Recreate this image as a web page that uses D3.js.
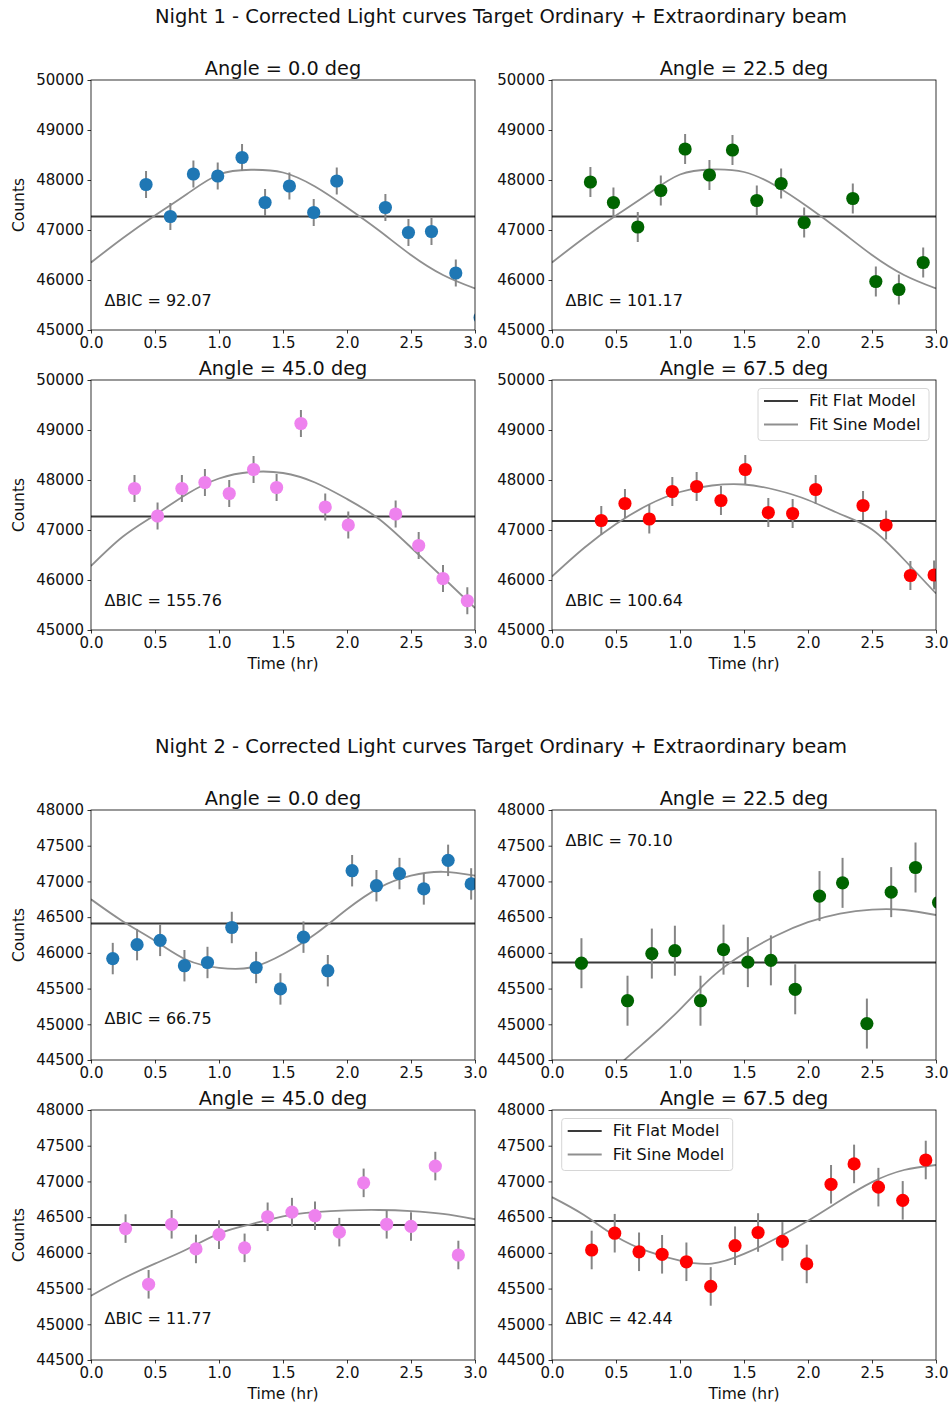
<!DOCTYPE html>
<html>
<head>
<meta charset="utf-8">
<script src="https://cdn.jsdelivr.net/npm/d3@7"></script>
<style>
  body { margin: 0; background: #fff; }
  svg text { font-family: "DejaVu Sans", sans-serif; fill: #111; }
</style>
</head>
<body>
<svg id="fig" width="951" height="1405"></svg>
<script>
// ---- Night titles, angles, colours ----
const nightTitles = [
  "Night 1 - Corrected Light curves Target Ordinary + Extraordinary beam",
  "Night 2 - Corrected Light curves Target Ordinary + Extraordinary beam"
];
const angleLabels = ["0.0", "22.5", "45.0", "67.5"];
const angleColors = ["#1f77b4", "#006400", "#ee82ee", "#ff0000"];

// ---- Axis ticks ----
const xTickValues = [0, 0.5, 1.0, 1.5, 2.0, 2.5, 3.0];
const yTicksN1 = [45000, 46000, 47000, 48000, 49000, 50000];
const yTicksN2 = [44500, 45000, 45500, 46000, 46500, 47000, 47500, 48000];

// ---- Night 1 light curves (time in hr, counts) ----
const timeN1A0  = [0.43, 0.62, 0.80, 0.99, 1.18, 1.36, 1.55, 1.74, 1.92, 2.30, 2.48, 2.66, 2.85, 3.04];
const countN1A0 = [47910, 47270, 48120, 48080, 48450, 47550, 47880, 47350, 47980, 47450, 46950, 46970, 46140, 45250];
const timeN1A1  = [0.30, 0.48, 0.67, 0.85, 1.04, 1.23, 1.41, 1.60, 1.79, 1.97, 2.35, 2.53, 2.71, 2.90];
const countN1A1 = [47960, 47550, 47060, 47790, 48620, 48100, 48600, 47590, 47930, 47150, 47630, 45970, 45810, 46350];
const timeN1A2  = [0.34, 0.52, 0.71, 0.89, 1.08, 1.27, 1.45, 1.64, 1.83, 2.01, 2.38, 2.56, 2.75, 2.94];
const countN1A2 = [47830, 47280, 47830, 47950, 47730, 48210, 47850, 49130, 47460, 47100, 47320, 46690, 46030, 45585];
const timeN1A3  = [0.385, 0.57, 0.76, 0.94, 1.13, 1.32, 1.51, 1.69, 1.88, 2.06, 2.43, 2.61, 2.80, 2.985];
const countN1A3 = [47190, 47530, 47220, 47770, 47870, 47590, 48210, 47350, 47330, 47810, 47490, 47100, 46090, 46100];

// ---- Night 2 light curves ----
const timeN2A0  = [0.17, 0.36, 0.54, 0.73, 0.91, 1.10, 1.29, 1.48, 1.66, 1.85, 2.04, 2.23, 2.41, 2.60, 2.79, 2.97];
const countN2A0 = [45920, 46115, 46175, 45820, 45865, 46355, 45795, 45495, 46220, 45750, 47150, 46940, 47110, 46895, 47295, 46965];
const timeN2A1  = [0.23, 0.59, 0.78, 0.96, 1.16, 1.34, 1.53, 1.71, 1.90, 2.09, 2.27, 2.46, 2.65, 2.84, 3.02];
const countN2A1 = [45855, 45330, 45990, 46030, 45330, 46045, 45870, 45895, 45490, 46795, 46980, 45010, 46850, 47195, 46705];
const timeN2A2  = [0.27, 0.45, 0.63, 0.82, 1.00, 1.20, 1.38, 1.57, 1.75, 1.94, 2.13, 2.31, 2.50, 2.69, 2.87];
const countN2A2 = [46340, 45560, 46400, 46055, 46255, 46070, 46505, 46570, 46520, 46290, 46980, 46400, 46370, 47215, 45970];
const timeN2A3  = [0.31, 0.49, 0.68, 0.86, 1.05, 1.24, 1.43, 1.61, 1.80, 1.99, 2.18, 2.36, 2.55, 2.74, 2.92];
const countN2A3 = [46040, 46275, 46015, 45980, 45875, 45530, 46100, 46285, 46160, 45845, 46960, 47245, 46920, 46735, 47300];

// ---- Per-panel uncertainty (counts), one value per angle ----
const errN1 = [270, 300, 270, 290];
const errN2 = [220, 350, 200, 270];

// ---- Fit Flat Model level per angle ----
const flatN1 = [47270, 47270, 47270, 47180];
const flatN2 = [46410, 45865, 46390, 46445];

// ---- Fit Sine Model, evaluated on a time grid (hr) ----
const sineTime  = [0, 0.25, 0.5, 0.75, 1.0, 1.25, 1.5, 1.75, 2.0, 2.25, 2.5, 2.75, 3.0];
const sineN1A0  = [46350, 46840, 47290, 47720, 48110, 48205, 48150, 47870, 47450, 46990, 46500, 46100, 45830];
const sineN1A1  = [46350, 46840, 47290, 47720, 48110, 48210, 48160, 47880, 47460, 46990, 46500, 46100, 45830];
const sineN1A2  = [46280, 46870, 47300, 47720, 48030, 48160, 48140, 47950, 47620, 47220, 46650, 46050, 45440];
const sineN1A3  = [46070, 46640, 47120, 47500, 47760, 47890, 47910, 47800, 47600, 47320, 47010, 46410, 45730];
const sineN2A0  = [46750, 46440, 46170, 45900, 45790, 45795, 45980, 46260, 46610, 46910, 47080, 47135, 47080];
const sineN2A1  = [43350, 43900, 44390, 44790, 45210, 45660, 45990, 46240, 46430, 46550, 46605, 46600, 46530];
const sineN2A2  = [45400, 45640, 45850, 46050, 46270, 46400, 46510, 46570, 46595, 46600, 46585, 46545, 46470];
const sineN2A3  = [46780, 46530, 46230, 46020, 45890, 45850, 45985, 46200, 46450, 46730, 46990, 47160, 47230];

// ---- ΔBIC annotations ----
const dbicN1 = ["92.07", "101.17", "155.76", "100.64"];
const dbicN2 = ["66.75", "70.10", "11.77", "42.44"];

// ---- Legend entries ----
const legendLabels = ["Fit Flat Model", "Fit Sine Model"];

// ---------------------------------------------------------------
const svg = d3.select("#fig");

const colX = [91, 552];
const panelW = 384, panelH = 250;
const nightRowY = [[80, 380], [810, 1110]];
const nightTitleY = [23, 753];
const yDomains = [[45000, 50000], [44500, 48000]];
const yTicks = [yTicksN1, yTicksN2];

const flatColor = "#3a3a3a";
const sineColor = "#8f8f8f";
const errColor = "#858585";

const times  = [[timeN1A0, timeN1A1, timeN1A2, timeN1A3], [timeN2A0, timeN2A1, timeN2A2, timeN2A3]];
const counts = [[countN1A0, countN1A1, countN1A2, countN1A3], [countN2A0, countN2A1, countN2A2, countN2A3]];
const sines  = [[sineN1A0, sineN1A1, sineN1A2, sineN1A3], [sineN2A0, sineN2A1, sineN2A2, sineN2A3]];
const errs   = [errN1, errN2];
const flats  = [flatN1, flatN2];
const dbics  = [dbicN1, dbicN2];

// where the ΔBIC note sits, as pixel offsets inside each panel
function dbicBaseline(night, k, y0) {
  if (night === 1 && k === 1) return y0 + 35.5;
  return night === 0 ? y0 + panelH - 24.5 : y0 + panelH - 36.5;
}

let clipId = 0;

nightTitles.forEach((title, night) => {
  svg.append("text")
    .attr("x", 501).attr("y", nightTitleY[night])
    .attr("text-anchor", "middle")
    .style("font-size", "19.5px")
    .text(title);

  angleLabels.forEach((ang, k) => {
    const col = k % 2, row = Math.floor(k / 2);
    const x0 = colX[col], y0 = nightRowY[night][row];
    const x = d3.scaleLinear().domain([0, 3]).range([x0, x0 + panelW]);
    const y = d3.scaleLinear().domain(yDomains[night]).range([y0 + panelH, y0]);
    const g = svg.append("g");

    const cid = "clip" + (clipId++);
    g.append("clipPath").attr("id", cid)
      .append("rect").attr("x", x0).attr("y", y0).attr("width", panelW).attr("height", panelH);

    // axes
    const xAxis = d3.axisBottom(x).tickValues(xTickValues)
      .tickFormat(d3.format(".1f")).tickSizeOuter(0).tickSize(3.5).tickPadding(3.5);
    const yAxis = d3.axisLeft(y).tickValues(yTicks[night])
      .tickFormat(d3.format("d")).tickSizeOuter(0).tickSize(3.5).tickPadding(3.5);
    const gx = g.append("g").attr("transform", `translate(0,${y0 + panelH})`).call(xAxis);
    const gy = g.append("g").attr("transform", `translate(${x0},0)`).call(yAxis);
    [gx, gy].forEach(a => {
      a.attr("font-family", null).attr("font-size", null);
      a.select(".domain").remove();
      a.selectAll(".tick line").attr("stroke", "#000").attr("stroke-width", 0.8);
      a.selectAll(".tick text").style("font-size", "15px").attr("fill", "#111");
    });

    const plot = g.append("g").attr("clip-path", `url(#${cid})`);

    // flat model
    plot.append("line")
      .attr("x1", x(0)).attr("x2", x(3))
      .attr("y1", y(flats[night][k])).attr("y2", y(flats[night][k]))
      .attr("stroke", flatColor).attr("stroke-width", 2);

    // sine model
    const sineLine = d3.line()
      .x((d, i) => x(sineTime[i]))
      .y(d => y(d))
      .curve(d3.curveNatural);
    plot.append("path")
      .attr("d", sineLine(sines[night][k]))
      .attr("fill", "none").attr("stroke", sineColor).attr("stroke-width", 1.8);

    // error bars and points
    const ts = times[night][k], cs = counts[night][k], e = errs[night][k];
    plot.selectAll(".eb").data(cs).enter().append("line")
      .attr("x1", (d, i) => x(ts[i])).attr("x2", (d, i) => x(ts[i]))
      .attr("y1", d => y(d - e)).attr("y2", d => y(d + e))
      .attr("stroke", errColor).attr("stroke-width", 2);
    plot.selectAll(".pt").data(cs).enter().append("circle")
      .attr("cx", (d, i) => x(ts[i])).attr("cy", d => y(d))
      .attr("r", 6.6).attr("fill", angleColors[k]);

    // frame
    g.append("rect")
      .attr("x", x0).attr("y", y0).attr("width", panelW).attr("height", panelH)
      .attr("fill", "none").attr("stroke", "#000").attr("stroke-width", 0.8);

    // title
    g.append("text")
      .attr("x", x0 + panelW / 2).attr("y", y0 - 5)
      .attr("text-anchor", "middle").style("font-size", "19.3px")
      .text(`Angle = ${ang} deg`);

    // ΔBIC
    g.append("text")
      .attr("x", x0 + 13.5).attr("y", dbicBaseline(night, k, y0))
      .style("font-size", "16px")
      .text(`ΔBIC = ${dbics[night][k]}`);

    if (col === 0) {
      g.append("text")
        .attr("transform", `translate(24,${y0 + panelH / 2}) rotate(-90)`)
        .attr("text-anchor", "middle").style("font-size", "15.5px")
        .text("Counts");
    }
    if (row === 1) {
      g.append("text")
        .attr("x", x0 + panelW / 2).attr("y", y0 + panelH + 38.5)
        .attr("text-anchor", "middle").style("font-size", "15.5px")
        .text("Time (hr)");
    }

    // legend in the 67.5 deg panel
    if (k === 3) {
      const lw = 171, lh = 52;
      const lx = night === 0 ? x0 + panelW - 7 - lw : x0 + 9.7;
      const ly = y0 + 8.5;
      const lg = g.append("g").attr("transform", `translate(${lx},${ly})`);
      lg.append("rect").attr("width", lw).attr("height", lh).attr("rx", 3)
        .attr("fill", "#fff").attr("fill-opacity", 0.85)
        .attr("stroke", "#d6d6d6").attr("stroke-width", 1);
      const legendColors = [flatColor, sineColor];
      const legendWidths = [2, 1.8];
      legendLabels.forEach((lab, i) => {
        const cy = 12.4 + i * 23.6;
        lg.append("line").attr("x1", 6).attr("x2", 40).attr("y1", cy).attr("y2", cy)
          .attr("stroke", legendColors[i]).attr("stroke-width", legendWidths[i]);
        lg.append("text").attr("x", 51).attr("y", cy + 5.5)
          .style("font-size", "16px").text(lab);
      });
    }
  });
});
</script>
</body>
</html>
